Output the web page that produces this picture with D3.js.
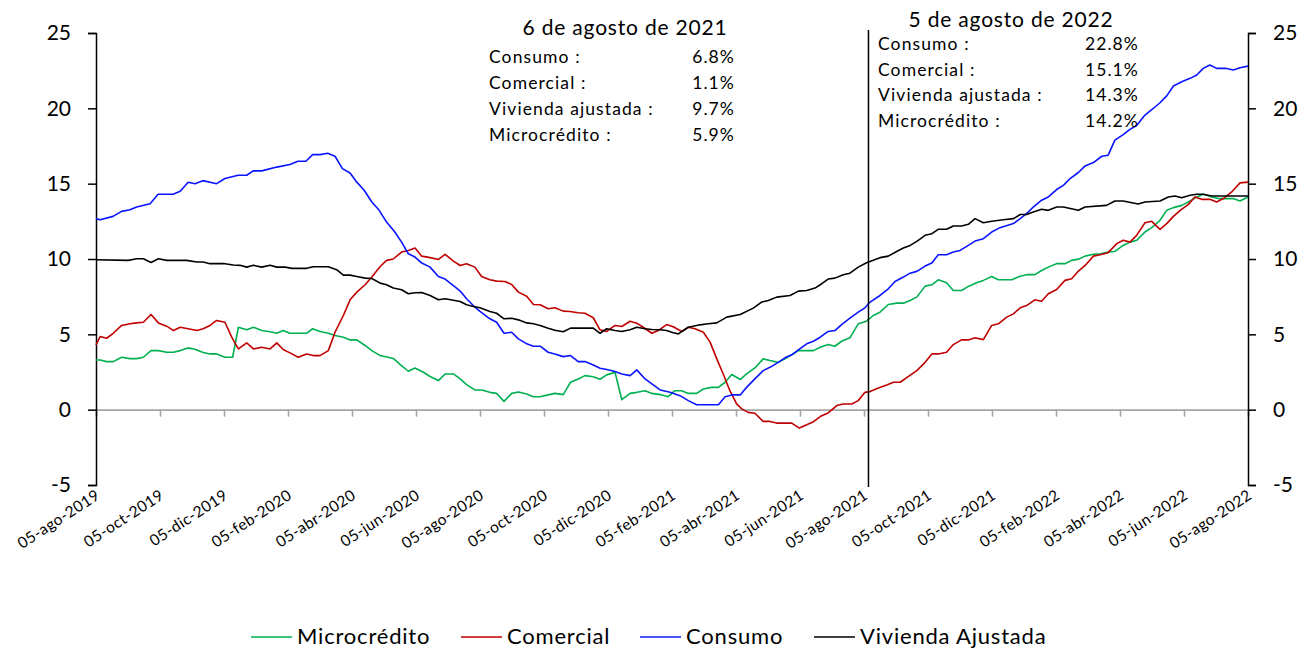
<!DOCTYPE html>
<html><head><meta charset="utf-8">
<script src="https://cdn.jsdelivr.net/npm/d3@7"></script>
<style>
body{margin:0;background:#fff;}
svg{font-family:Lato, "Open Sans", sans-serif;}
</style></head>
<body><svg id="c" width="1304" height="650"></svg>
<script>
// x values are months elapsed since 05-ago-2019 (tick every 2 months)
const tickLabels = ["05-ago-2019","05-oct-2019","05-dic-2019","05-feb-2020","05-abr-2020","05-jun-2020","05-ago-2020","05-oct-2020","05-dic-2020","05-feb-2021","05-abr-2021","05-jun-2021","05-ago-2021","05-oct-2021","05-dic-2021","05-feb-2022","05-abr-2022","05-jun-2022","05-ago-2022"];
const yTicks = [-5,0,5,10,15,20,25];

const microcredito = [[0,3.3],[0.13,3.3],[0.33,3.19],[0.54,3.19],[0.80,3.48],[1.06,3.39],[1.27,3.39],[1.48,3.48],[1.72,3.92],[1.95,3.92],[2.21,3.81],[2.42,3.81],[2.63,3.92],[2.88,4.1],[3.09,4.01],[3.35,3.79],[3.56,3.7],[3.77,3.7],[4.03,3.48],[4.27,3.48],[4.45,5.47],[4.71,5.3],[4.92,5.47],[5.18,5.25],[5.44,5.17],[5.65,5.07],[5.85,5.25],[6.06,5.07],[6.58,5.07],[6.77,5.37],[7.00,5.19],[7.26,5.07],[7.47,4.92],[7.73,4.81],[7.94,4.63],[8.15,4.63],[8.41,4.26],[8.62,3.92],[8.88,3.59],[9.29,3.4],[9.50,3.0],[9.76,2.55],[9.97,2.76],[10.23,2.48],[10.44,2.2],[10.70,1.93],[10.91,2.37],[11.17,2.37],[11.38,2.04],[11.58,1.66],[11.84,1.31],[12.05,1.31],[12.31,1.15],[12.52,1.08],[12.75,0.55],[12.99,1.08],[13.20,1.17],[13.46,1.04],[13.67,0.86],[13.88,0.86],[14.13,0.98],[14.34,1.08],[14.60,1.0],[14.83,1.82],[15.07,2.04],[15.28,2.26],[15.54,2.19],[15.75,2.02],[15.96,2.31],[16.22,2.48],[16.43,0.66],[16.69,1.08],[16.90,1.15],[17.16,1.26],[17.37,1.08],[17.63,1.0],[17.88,0.86],[18.09,1.26],[18.30,1.26],[18.51,1.08],[18.77,1.08],[18.98,1.37],[19.24,1.48],[19.45,1.48],[19.66,1.82],[19.87,2.33],[20.13,2.0],[20.33,2.37],[20.59,2.77],[20.85,3.37],[21.06,3.26],[21.32,3.14],[21.53,3.37],[21.74,3.64],[21.95,3.92],[22.42,3.92],[22.63,4.14],[22.88,4.32],[23.09,4.21],[23.30,4.54],[23.56,4.77],[23.82,5.7],[24.08,5.87],[24.29,6.25],[24.50,6.47],[24.76,6.98],[25.02,7.07],[25.23,7.07],[25.44,7.25],[25.65,7.47],[25.91,8.2],[26.12,8.29],[26.32,8.62],[26.58,8.42],[26.79,7.91],[27.05,7.91],[27.26,8.18],[27.52,8.42],[27.73,8.58],[27.99,8.84],[28.20,8.62],[28.62,8.62],[28.88,8.86],[29.08,8.96],[29.34,8.96],[29.55,9.24],[29.81,9.51],[30.02,9.69],[30.28,9.69],[30.49,9.91],[30.70,9.99],[30.91,10.19],[31.17,10.31],[31.38,10.35],[31.63,10.46],[31.84,10.5],[32.10,10.9],[32.31,11.12],[32.52,11.24],[32.78,11.79],[32.99,12.08],[33.25,12.57],[33.46,13.23],[33.67,13.41],[33.93,13.56],[34.19,13.85],[34.40,14.12],[34.60,14.3],[34.87,14.12],[35.07,14.01],[35.33,14.01],[35.54,14.01],[35.75,13.85],[36,14.12]];

const comercial = [[0,4.3],[0.13,4.85],[0.33,4.74],[0.54,5.07],[0.80,5.59],[1.06,5.7],[1.27,5.76],[1.48,5.8],[1.72,6.32],[1.95,5.76],[2.21,5.54],[2.42,5.25],[2.63,5.47],[2.88,5.37],[3.15,5.25],[3.35,5.37],[3.56,5.59],[3.77,5.92],[4.03,5.8],[4.24,4.81],[4.45,4.03],[4.71,4.43],[4.92,4.03],[5.18,4.14],[5.44,4.03],[5.65,4.43],[5.85,3.99],[6.06,3.77],[6.32,3.48],[6.58,3.7],[6.79,3.59],[7.00,3.59],[7.26,3.92],[7.47,5.14],[7.73,6.25],[7.94,7.29],[8.15,7.8],[8.41,8.29],[8.62,8.8],[8.88,9.5],[9.08,9.91],[9.29,10.0],[9.55,10.46],[9.76,10.57],[9.97,10.73],[10.18,10.19],[10.44,10.09],[10.70,9.97],[10.91,10.31],[11.17,9.86],[11.38,9.57],[11.58,9.69],[11.84,9.46],[12.05,8.84],[12.31,8.62],[12.52,8.53],[12.78,8.51],[12.99,8.31],[13.20,7.8],[13.46,7.53],[13.67,6.98],[13.88,6.96],[14.13,6.7],[14.34,6.76],[14.60,6.54],[14.81,6.52],[15.07,6.43],[15.28,6.4],[15.54,6.1],[15.75,5.3],[15.96,5.19],[16.22,5.59],[16.43,5.52],[16.69,5.87],[16.90,5.74],[17.10,5.47],[17.37,5.07],[17.57,5.25],[17.83,5.65],[18.04,5.5],[18.30,5.19],[18.51,5.47],[18.72,5.37],[18.98,5.14],[19.19,4.48],[19.40,3.37],[19.60,2.37],[19.81,1.26],[20.02,0.38],[20.18,0.05],[20.38,-0.18],[20.59,-0.24],[20.85,-0.78],[21.06,-0.78],[21.27,-0.89],[21.74,-0.89],[21.98,-1.22],[22.21,-1.0],[22.42,-0.8],[22.68,-0.4],[22.88,-0.22],[23.15,0.27],[23.35,0.38],[23.62,0.38],[23.82,0.6],[24.03,1.15],[24.19,1.2],[24.45,1.44],[24.71,1.64],[24.92,1.82],[25.13,1.82],[25.38,2.19],[25.65,2.59],[25.91,3.14],[26.12,3.7],[26.32,3.7],[26.58,3.81],[26.79,4.32],[27.05,4.63],[27.26,4.63],[27.47,4.77],[27.73,4.65],[27.99,5.59],[28.20,5.7],[28.46,6.14],[28.67,6.36],[28.88,6.76],[29.08,6.91],[29.34,7.29],[29.55,7.2],[29.76,7.69],[30.02,7.98],[30.28,8.58],[30.49,8.69],[30.70,9.2],[30.91,9.57],[31.17,10.19],[31.38,10.28],[31.63,10.42],[31.90,11.02],[32.10,11.24],[32.31,11.12],[32.52,11.57],[32.78,12.41],[32.99,12.5],[33.25,11.97],[33.46,12.35],[33.67,12.83],[33.88,13.23],[34.13,13.61],[34.34,14.12],[34.55,13.96],[34.81,13.96],[35.02,13.78],[35.23,14.01],[35.49,14.45],[35.75,15.05],[36,15.1]];

const consumo = [[0,12.68],[0.13,12.6],[0.53,12.83],[0.80,13.16],[1.06,13.27],[1.27,13.45],[1.69,13.67],[1.94,14.3],[2.41,14.3],[2.63,14.5],[2.88,15.1],[3.09,15.0],[3.34,15.2],[3.77,15.0],[4.03,15.34],[4.44,15.56],[4.71,15.56],[4.91,15.85],[5.18,15.85],[5.65,16.1],[6.06,16.27],[6.31,16.49],[6.56,16.49],[6.77,16.93],[7.00,16.93],[7.24,17.02],[7.47,16.82],[7.70,16.0],[7.94,15.71],[8.15,15.1],[8.38,14.56],[8.62,13.78],[8.85,13.23],[9.08,12.45],[9.34,11.79],[9.55,11.12],[9.76,10.35],[9.97,10.13],[10.18,9.73],[10.44,9.46],[10.70,8.84],[10.91,8.67],[11.17,8.24],[11.38,7.87],[11.58,7.36],[11.79,6.91],[12.00,6.52],[12.31,6.03],[12.52,5.8],[12.75,5.07],[12.99,5.14],[13.20,4.7],[13.46,4.37],[13.67,4.21],[13.88,4.21],[14.13,3.81],[14.34,3.7],[14.60,3.52],[14.83,3.59],[15.07,3.19],[15.28,3.19],[15.54,2.97],[15.75,2.75],[15.96,2.66],[16.22,2.53],[16.43,2.37],[16.69,2.26],[16.90,2.64],[17.16,2.04],[17.37,1.71],[17.63,1.31],[17.94,1.15],[18.25,0.93],[18.51,0.6],[18.77,0.33],[19.45,0.33],[19.66,0.86],[19.87,0.98],[20.13,0.98],[20.33,1.48],[20.59,2.04],[20.85,2.59],[21.06,2.81],[21.32,3.14],[21.53,3.44],[21.74,3.64],[21.95,3.97],[22.21,4.37],[22.42,4.54],[22.63,4.81],[22.88,5.19],[23.09,5.25],[23.30,5.65],[23.56,6.07],[23.82,6.47],[24.03,6.76],[24.19,7.14],[24.50,7.58],[24.76,8.02],[24.97,8.51],[25.23,8.8],[25.44,9.06],[25.65,9.18],[25.91,9.53],[26.12,9.73],[26.32,10.28],[26.58,10.28],[26.79,10.46],[27.00,10.57],[27.21,10.84],[27.47,11.19],[27.73,11.35],[27.99,11.79],[28.25,12.08],[28.67,12.35],[28.88,12.68],[29.08,13.01],[29.29,13.45],[29.55,13.9],[29.76,14.12],[30.02,14.61],[30.23,14.89],[30.44,15.34],[30.70,15.74],[30.91,16.18],[31.17,16.4],[31.43,16.82],[31.63,16.89],[31.84,17.89],[32.10,18.26],[32.31,18.6],[32.52,18.86],[32.78,19.55],[33.04,19.99],[33.25,20.37],[33.46,20.83],[33.67,21.48],[33.93,21.76],[34.19,21.99],[34.40,22.21],[34.60,22.65],[34.81,22.87],[35.02,22.65],[35.33,22.65],[35.54,22.54],[35.75,22.69],[36,22.8]];

const vivienda = [[0,9.95],[1.01,9.91],[1.27,10.02],[1.48,10.02],[1.72,9.77],[1.95,10.02],[2.21,9.91],[2.83,9.91],[3.15,9.8],[3.35,9.8],[3.56,9.69],[4.03,9.69],[4.29,9.6],[4.50,9.58],[4.71,9.46],[4.92,9.58],[5.18,9.46],[5.44,9.58],[5.65,9.46],[5.91,9.46],[6.12,9.38],[6.58,9.38],[6.79,9.49],[7.26,9.49],[7.52,9.29],[7.73,8.93],[7.94,8.93],[8.15,8.84],[8.41,8.73],[8.62,8.71],[8.88,8.4],[9.08,8.29],[9.29,8.07],[9.55,7.96],[9.76,7.69],[9.97,7.76],[10.18,7.78],[10.44,7.58],[10.70,7.29],[10.91,7.36],[11.38,7.18],[11.58,6.96],[11.79,6.85],[12.00,6.76],[12.31,6.52],[12.52,6.4],[12.75,6.03],[12.99,6.07],[13.20,5.96],[13.46,5.76],[13.67,5.7],[13.88,5.59],[14.13,5.41],[14.34,5.27],[14.60,5.17],[14.83,5.41],[15.54,5.41],[15.75,5.07],[15.96,5.37],[16.22,5.25],[16.43,5.19],[16.69,5.3],[16.90,5.47],[17.16,5.37],[17.37,5.32],[17.63,5.3],[17.83,5.25],[18.04,5.1],[18.20,5.03],[18.51,5.47],[18.88,5.63],[19.13,5.7],[19.40,5.76],[19.71,6.14],[20.13,6.32],[20.54,6.74],[20.80,7.14],[21.01,7.25],[21.27,7.47],[21.69,7.58],[21.95,7.87],[22.21,7.91],[22.47,8.07],[22.68,8.36],[22.88,8.67],[23.09,8.73],[23.35,8.96],[23.56,9.06],[23.82,9.46],[24.08,9.75],[24.29,9.91],[24.50,10.09],[24.76,10.19],[25.02,10.5],[25.23,10.73],[25.44,10.9],[25.65,11.17],[25.91,11.57],[26.12,11.68],[26.32,11.97],[26.58,11.97],[26.79,12.19],[27.05,12.19],[27.26,12.3],[27.47,12.68],[27.73,12.41],[27.99,12.5],[28.35,12.61],[28.67,12.68],[28.88,12.95],[29.08,12.95],[29.29,13.12],[29.55,13.3],[29.76,13.23],[30.02,13.45],[30.23,13.45],[30.70,13.23],[30.91,13.45],[31.58,13.56],[31.84,13.85],[32.10,13.85],[32.57,13.65],[32.78,13.78],[33.25,13.85],[33.51,14.12],[33.72,14.18],[33.93,14.07],[34.19,14.23],[34.40,14.3],[34.60,14.3],[34.87,14.18],[36,14.18]];

const seriesNames = ["Microcrédito","Comercial","Consumo","Vivienda Ajustada"];
const seriesData = [microcredito, comercial, consumo, vivienda];
const seriesColors = ["#00B050","#C00000","#0A14FF","#000000"];

const markerT = 24.14; // 6 de agosto de 2021
const annoLabels = ["Consumo :","Comercial :","Vivienda ajustada :","Microcrédito :"];
const anno2021 = ["6.8%","1.1%","9.7%","5.9%"];
const anno2022 = ["22.8%","15.1%","14.3%","14.2%"];

const svg = d3.select("#c");
const x = d3.scaleLinear().domain([0,36]).range([96,1248]);
const y = d3.scaleLinear().domain([-5,25]).range([485,33]);

// zero axis (category axis) in gray
const xAxis = d3.axisBottom(x).tickValues(d3.range(0,37,2)).tickSize(7).tickFormat("");
const gx = svg.append("g").attr("transform",`translate(0,${y(0)})`).call(xAxis);
gx.select(".domain").attr("stroke","#a6a6a6").attr("stroke-width",1.6);
gx.selectAll(".tick line").attr("stroke","#a6a6a6").attr("stroke-width",1.6);

// rotated date labels at the bottom
svg.append("g").selectAll("text").data(tickLabels).join("text")
  .attr("transform",(d,i)=>`translate(${x(i*2)+5},${y(-5)+13}) rotate(-33)`)
  .attr("text-anchor","end")
  .attr("font-size",15.5)
  .attr("letter-spacing",0.4)
  .attr("fill","#000")
  .text(d=>d);

// left and right axes
const fmt = d => String(d);
const yl = d3.axisLeft(y).tickValues(yTicks).tickSize(8).tickPadding(17).tickFormat(fmt);
const gl = svg.append("g").attr("transform",`translate(${x(0)},0)`).call(yl);
const yr = d3.axisRight(y).tickValues(yTicks).tickSize(8).tickPadding(17).tickFormat(fmt);
const gr = svg.append("g").attr("transform",`translate(${x(36)},0)`).call(yr);
[gl,gr].forEach(g=>{
  g.select(".domain").attr("stroke","#000").attr("stroke-width",1.5);
  g.selectAll(".tick line").attr("stroke","#000").attr("stroke-width",1.5);
  g.selectAll(".tick text").attr("font-size",21).attr("font-family","Lato, sans-serif").attr("fill","#000");
});

// lines
const line = d3.line().x(d=>x(d[0])).y(d=>y(d[1]));
svg.append("g").selectAll("path").data(seriesData).join("path")
  .attr("d",line).attr("fill","none")
  .attr("stroke",(d,i)=>seriesColors[i]).attr("stroke-width",1.6)
  .attr("stroke-linejoin","round");

// vertical marker
svg.append("line").attr("x1",x(markerT)).attr("x2",x(markerT))
  .attr("y1",30).attr("y2",487).attr("stroke","#000").attr("stroke-width",1.5);

// annotation blocks
function block(title, tx, ty, lx, ly0, dy, vx, vals){
  svg.append("text").attr("x",tx).attr("y",ty).attr("font-size",21).attr("letter-spacing",0.8).attr("text-anchor","middle").text(title);
  annoLabels.forEach((l,i)=>{
    svg.append("text").attr("x",lx).attr("y",ly0+i*dy).attr("font-size",17.5).attr("letter-spacing",1.1).text(l);
    svg.append("text").attr("x",vx).attr("y",ly0+i*dy).attr("font-size",17.5).attr("letter-spacing",1.1).attr("text-anchor","end").text(vals[i]);
  });
}
block("6 de agosto de 2021", 625, 35, 489, 63, 26, 735, anno2021);
block("5 de agosto de 2022", 1011, 27, 878, 50, 25.5, 1139, anno2022);

// legend
const legX = [251, 461, 640, 814];
const lg = svg.append("g");
seriesNames.forEach((n,i)=>{
  lg.append("line").attr("x1",legX[i]).attr("x2",legX[i]+41).attr("y1",637).attr("y2",637)
    .attr("stroke",seriesColors[i]).attr("stroke-width",1.6);
  lg.append("text").attr("x",legX[i]+46).attr("y",644).attr("font-size",22).attr("letter-spacing",0.8).text(n);
});
</script></body></html>
